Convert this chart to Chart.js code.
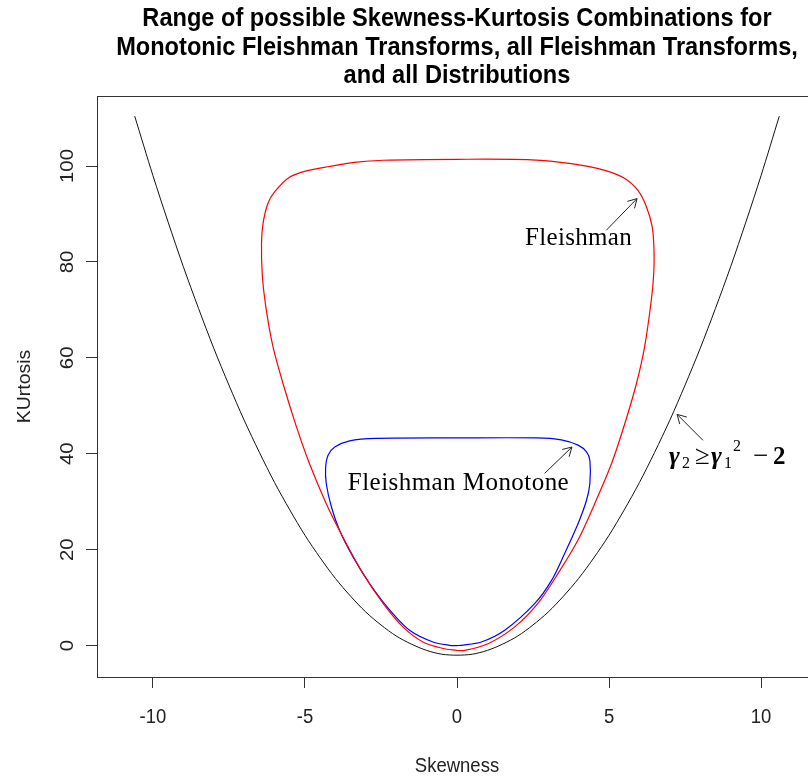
<!DOCTYPE html>
<html>
<head>
<meta charset="utf-8">
<script src="https://cdn.jsdelivr.net/npm/chart.js@4.4.1/dist/chart.umd.min.js"></script>
<style>
  html, body { margin: 0; padding: 0; background: #fff; overflow: hidden; width: 808px; height: 778px; }
  #wrap { position: absolute; left: 0; top: 0; width: 830px; height: 778px; }
</style>
</head>
<body>
<div id="wrap"><canvas id="c" width="830" height="778"></canvas></div>
<script>
// Titles and axis text
const titleLines = [
  'Range of possible Skewness-Kurtosis Combinations for',
  'Monotonic Fleishman Transforms, all Fleishman Transforms,',
  'and all Distributions'
];
const xAxisTitle = 'Skewness';
const yAxisTitle = 'KUrtosis';
const xTicks = [-10, -5, 0, 5, 10];
const yTicks = [0, 20, 40, 60, 80, 100];

// Lower bound for all distributions: kurtosis >= skewness^2 - 2
const boundSkew = [-10.6, -10, -9.5, -9, -8.5, -8, -7.5, -7, -6.5, -6, -5.5, -5, -4.5, -4, -3.5, -3, -2.5, -2, -1.5, -1, -0.5, 0,
                   0.5, 1, 1.5, 2, 2.5, 3, 3.5, 4, 4.5, 5, 5.5, 6, 6.5, 7, 7.5, 8, 8.5, 9, 9.5, 10, 10.6];
const boundKurt = [110.4, 98, 88.3, 79, 70.3, 62, 54.3, 47, 40.3, 34, 28.3, 23, 18.3, 14, 10.3, 7, 4.3, 2, 0.3, -1, -1.8, -2,
                   -1.8, -1, 0.3, 2, 4.3, 7, 10.3, 14, 18.3, 23, 28.3, 34, 40.3, 47, 54.3, 62, 70.3, 79, 88.3, 98, 110.4];

// Region reachable by all Fleishman transforms (closed curve)
const fleishSkew = [0, -0.46, -1.12, -1.78, -2.43, -3.09, -3.75, -4.30, -4.85, -5.28, -5.72, -6.05, -6.27, -6.40, -6.43, -6.38,
                    -6.22, -6.0, -5.5, -4.95, -4.19, -3.31, -2.43, 0, 2.45, 3.76, 4.86, 5.52, 5.95, 6.23, 6.42, 6.48, 6.47,
                    6.39, 6.17, 5.90, 5.52, 5.08, 4.53, 3.98, 3.32, 2.66, 1.90, 1.02, 0.25, 0];
const fleishKurt = [-1.0, -0.6, 0.75, 3.9, 8.8, 15.0, 22.6, 29.6, 37.9, 45.6, 54.6, 62.3, 69.9, 76.9, 83.8, 88.0,
                    92.2, 94.6, 97.7, 99.0, 99.9, 100.8, 101.2, 101.4, 101.3, 100.5, 99.1, 97.4, 94.9, 91.5, 87.3, 82.4, 77.6,
                    72.0, 62.3, 54.6, 46.3, 37.9, 29.6, 22.0, 15.0, 8.8, 3.9, 0.4, -1.0, -1.0];

// Region reachable by monotone Fleishman transforms (closed curve)
const monoSkew = [0, -0.24, -0.79, -1.56, -2.21, -2.87, -3.42, -3.86, -4.13, -4.30, -4.32, -4.24, -4.02, -3.53, -2.65, 0,
                  2.61, 3.43, 3.98, 4.26, 4.37, 4.37, 4.26, 3.98, 3.54, 3.11, 2.56, 1.57, 0.80, 0.14, 0];
const monoKurt = [0.0, 0.06, 0.75, 3.2, 7.4, 12.9, 18.5, 24.0, 28.9, 33.8, 37.2, 39.7, 41.4, 42.7, 43.2, 43.3,
                  43.3, 42.9, 41.8, 40.4, 38.6, 33.8, 30.3, 25.4, 19.2, 13.6, 8.8, 3.2, 0.75, 0.06, 0.0];

const toPoints = (xs, ys) => xs.map((v, i) => ({ x: v, y: ys[i] }));

// Text helper: glyphs are drawn slightly taller than wide, like the rest of the figure
function drawText(ctx, text, x, y, font, opt = {}) {
  ctx.save();
  ctx.translate(x, y);
  if (opt.rot) ctx.rotate(opt.rot);
  ctx.scale(opt.sx || 1, opt.sy || 1);
  ctx.font = font;
  ctx.fillStyle = opt.color || '#000';
  ctx.textAlign = opt.align || 'left';
  ctx.textBaseline = 'alphabetic';
  if (opt.spacing) ctx.letterSpacing = opt.spacing;
  ctx.fillText(text, 0, 0);
  ctx.restore();
}

function drawArrow(ctx, x0, y0, x1, y1) {
  const ang = Math.atan2(y1 - y0, x1 - x0);
  const head = 10, spread = Math.PI / 6;
  ctx.beginPath();
  ctx.moveTo(x0, y0);
  ctx.lineTo(x1, y1);
  ctx.moveTo(x1 - head * Math.cos(ang - spread), y1 - head * Math.sin(ang - spread));
  ctx.lineTo(x1, y1);
  ctx.lineTo(x1 - head * Math.cos(ang + spread), y1 - head * Math.sin(ang + spread));
  ctx.stroke();
}

const arrows = [
  { from: [4.91, 86.6], to: [5.92, 93.2] },
  { from: [2.88, 35.9], to: [3.78, 41.4] },
  { from: [8.09, 42.8], to: [7.24, 48.2] }
];

const SANS = '"Liberation Sans", Arial, sans-serif';
const SERIF = '"Liberation Serif", "Times New Roman", serif';

const decorations = {
  id: 'decorations',
  afterDraw(chart) {
    const { ctx, chartArea: a, scales: { x, y } } = chart;
    const cx = (a.left + a.right) / 2;
    const cy = (a.top + a.bottom) / 2;

    // plot box
    ctx.save();
    ctx.strokeStyle = '#333';
    ctx.lineWidth = 1;
    ctx.strokeRect(a.left + 0.5, a.top + 0.5, a.right - a.left, a.bottom - a.top);
    ctx.restore();

    // title
    const tBase = [26, 55, 83];
    titleLines.forEach((t, i) => drawText(ctx, t, cx, tBase[i], 'bold 23.6px ' + SANS, { align: 'center', sy: 1.06 }));

    // tick labels
    xTicks.forEach(v => drawText(ctx, String(v), x.getPixelForValue(v), 723, '18.5px ' + SANS, { align: 'center', sy: 1.1, color: '#222' }));
    yTicks.forEach(v => drawText(ctx, String(v), 72.5, y.getPixelForValue(v), '18.5px ' + SANS, { align: 'center', rot: -Math.PI / 2, sx: 1.1, color: '#222' }));

    // axis titles
    drawText(ctx, xAxisTitle, cx, 772, '18.5px ' + SANS, { align: 'center', sy: 1.1, color: '#222' });
    drawText(ctx, yAxisTitle, 30, cy, '18.5px ' + SANS, { align: 'center', rot: -Math.PI / 2, sx: 1.05, color: '#222' });

    // annotation arrows
    ctx.save();
    ctx.strokeStyle = '#222';
    ctx.lineWidth = 1;
    arrows.forEach(ar => drawArrow(ctx,
      x.getPixelForValue(ar.from[0]), y.getPixelForValue(ar.from[1]),
      x.getPixelForValue(ar.to[0]), y.getPixelForValue(ar.to[1])));
    ctx.restore();

    // region labels
    drawText(ctx, 'Fleishman', x.getPixelForValue(2.24), y.getPixelForValue(83.5), '25px ' + SERIF, { spacing: '0.3px' });
    drawText(ctx, 'Fleishman Monotone', x.getPixelForValue(-3.59), y.getPixelForValue(32.4), '25px ' + SERIF, { spacing: '0.45px' });

    // boundary formula: γ2 ≥ γ1^2 − 2
    const gx = x.getPixelForValue(6.97), gy = y.getPixelForValue(37.9);
    const gFont = 'bold italic 26px ' + SERIF, rFont = '27px ' + SERIF, sFont = '16px ' + SERIF;
    drawText(ctx, 'γ', gx, gy, gFont);
    drawText(ctx, '2', gx + 13, gy + 4, sFont);
    drawText(ctx, '≥', gx + 26, gy, rFont);
    drawText(ctx, 'γ', gx + 42, gy, gFont);
    drawText(ctx, '1', gx + 55, gy + 4, sFont);
    drawText(ctx, '2', gx + 64, gy - 13, sFont);
    drawText(ctx, '−', gx + 84, gy, rFont);
    drawText(ctx, '2', gx + 104, gy, 'bold 25px ' + SERIF);
  }
};

const lineStyle = { showLine: true, pointRadius: 0, borderWidth: 1.2, tension: 0.3, fill: false };

new Chart(document.getElementById('c'), {
  type: 'scatter',
  data: {
    datasets: [
      { label: 'All distributions', data: toPoints(boundSkew, boundKurt), borderColor: '#111', ...lineStyle, borderWidth: 1 },
      { label: 'Fleishman', data: toPoints(fleishSkew, fleishKurt), borderColor: '#ff0000', ...lineStyle },
      { label: 'Fleishman Monotone', data: toPoints(monoSkew, monoKurt), borderColor: '#0000ff', ...lineStyle }
    ]
  },
  options: {
    responsive: false,
    animation: false,
    devicePixelRatio: 1,
    layout: { padding: { top: 96, right: 13, left: 0, bottom: 0 } },
    plugins: { legend: { display: false }, tooltip: { enabled: false }, title: { display: false } },
    scales: {
      x: {
        type: 'linear', min: -11.84, max: 11.84,
        afterBuildTicks: s => { s.ticks = xTicks.map(v => ({ value: v })); },
        afterFit: s => { s.height = 101; },
        ticks: { display: false },
        border: { display: false },
        grid: { drawOnChartArea: false, drawTicks: true, tickLength: 11, color: '#333', lineWidth: 1 }
      },
      y: {
        type: 'linear', min: -6.55, max: 114.6,
        afterBuildTicks: s => { s.ticks = yTicks.map(v => ({ value: v })); },
        afterFit: s => { s.width = 97; },
        ticks: { display: false },
        border: { display: false },
        grid: { drawOnChartArea: false, drawTicks: true, tickLength: 11, color: '#333', lineWidth: 1 }
      }
    }
  },
  plugins: [decorations]
});
</script>
</body>
</html>
